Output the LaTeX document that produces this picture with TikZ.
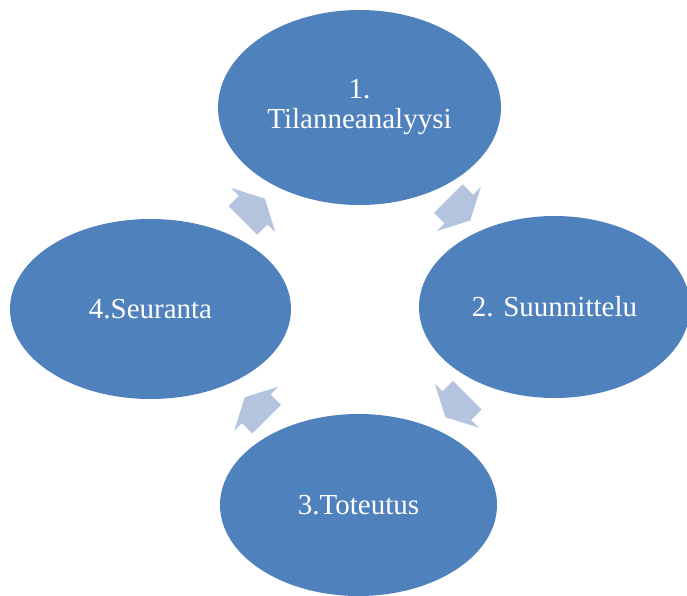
\documentclass[tikz,border=0pt]{standalone}
\usepackage{fontspec}
\setmainfont{Liberation Serif}
\usetikzlibrary{shapes.geometric,shapes.arrows,calc,positioning}
\definecolor{phasefill}{RGB}{79,129,189}
\definecolor{arrowfill}{RGB}{180,196,222}
\begin{document}
\begin{tikzpicture}[x=1pt,y=1pt,phase/.style = {ellipse, fill = phasefill, text = white, inner sep = 0pt, align = center, font = \fontsize{29}{30}\selectfont},
turn/.style = {single arrow, fill = arrowfill, inner xsep = 0pt, inner ysep = 20pt, minimum height = 31pt, single arrow head extend = 11pt, single arrow tip angle = 125},]
\useasboundingbox (0,0) rectangle (687,595);
\node (P1) at (359.5,487.5)[phase,minimum width=283pt,minimum height=195pt] {1.\\Tilanneanalyysi};
\node (P2) at (554.5,288)[phase,minimum width=271pt,minimum height=182pt] {2. Suunnittelu};
\node (P3) at (358.5,90)[phase,minimum width=277pt,minimum height=182pt] {3.Toteutus};
\node (P4) at (150.5,286)[phase,minimum width=281pt,minimum height=180pt] {4.Seuranta};
\node (A12) at ($(P1)!0.5!(P2)$)[turn,rotate=-45,xshift=-2pt] {};
\node (A23) at ($(P2)!0.5!(P3)$)[turn,rotate=-135,xshift=-5pt] {};
\node (A34) at ($(P3)!0.5!(P4)$)[turn,rotate=135,xshift=-7pt] {};
\node (A41) at ($(P4)!0.5!(P1)$)[turn,rotate=45,xshift=-7pt] {};
\end{tikzpicture}
\end{document}
